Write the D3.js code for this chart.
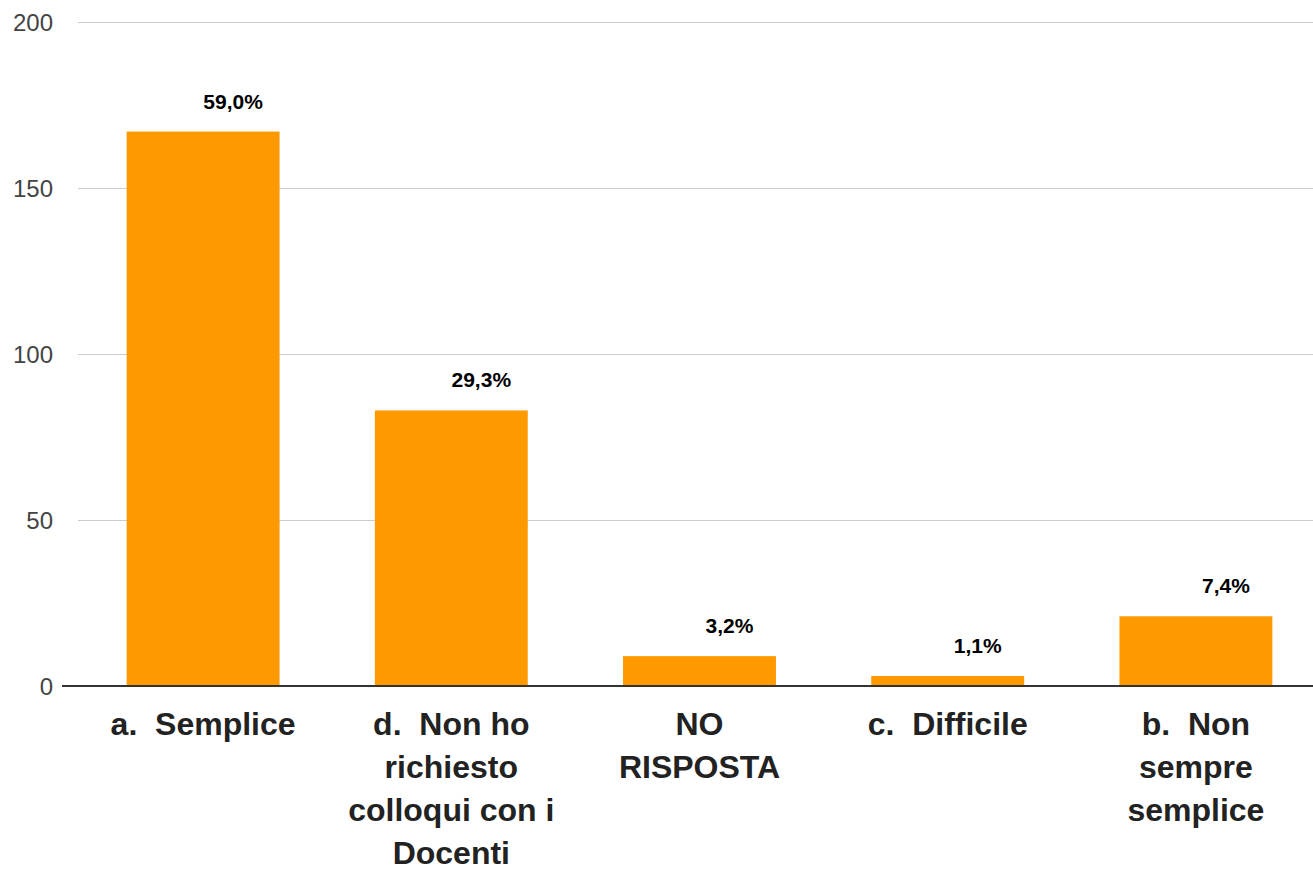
<!DOCTYPE html>
<html>
<head>
<meta charset="utf-8">
<script src="https://cdn.jsdelivr.net/npm/d3@7"></script>
<style>
  html, body { margin: 0; padding: 0; background: #fff; }
  svg { display: block; font-family: "Liberation Sans", Arial, sans-serif; }
</style>
</head>
<body>
<svg id="chart" width="1313" height="873"></svg>
<script>
// ---- data ----
const categories = [
  "a.  Semplice",
  "d.  Non ho\nrichiesto\ncolloqui con i\nDocenti",
  "NO\nRISPOSTA",
  "c.  Difficile",
  "b.  Non\nsempre\nsemplice"
];
const values = [167, 83, 9, 3, 21];
const yTicks = [0, 50, 100, 150, 200];

// ---- layout ----
const W = 1313, H = 873;
const plot = { left: 79, right: 1320, top: 22, bottom: 686 };
const svg = d3.select("#chart");

const x = d3.scaleBand()
  .domain(categories)
  .range([plot.left, plot.right])
  .paddingInner(0.384)
  .paddingOuter(0.192);

const y = d3.scaleLinear().domain([0, 200]).range([plot.bottom, plot.top]);

const total = d3.sum(values);
const fmtPct = v => (v / total * 100).toFixed(1).replace(".", ",") + "%";

// gridlines
svg.append("g")
  .selectAll("line")
  .data(yTicks.filter(t => t !== 0))
  .join("line")
  .attr("x1", 78).attr("x2", W)
  .attr("y1", d => Math.round(y(d)) + 0.5)
  .attr("y2", d => Math.round(y(d)) + 0.5)
  .attr("stroke", "#cccccc")
  .attr("stroke-width", 1);

// y axis labels
const yAxis = d3.axisLeft(y).tickValues(yTicks).tickSize(0).tickPadding(0);
const yg = svg.append("g").attr("transform", "translate(53,0)").call(yAxis);
yg.select(".domain").remove();
yg.selectAll("text")
  .attr("fill", "#444")
  .attr("font-size", 24)
  .attr("font-family", "Liberation Sans, Arial, sans-serif")
  .attr("dy", "0.35em");

// bars
svg.append("g")
  .selectAll("rect")
  .data(values)
  .join("rect")
  .attr("x", (d, i) => x(categories[i]))
  .attr("width", x.bandwidth())
  .attr("y", d => y(d))
  .attr("height", d => y(0) - y(d))
  .attr("fill", "#ff9900");

// baseline
svg.append("line")
  .attr("x1", 62).attr("x2", W)
  .attr("y1", y(0)).attr("y2", y(0))
  .attr("stroke", "#333")
  .attr("stroke-width", 2);

// value labels
svg.append("g")
  .selectAll("text")
  .data(values)
  .join("text")
  .attr("x", (d, i) => x(categories[i]) + x.bandwidth() / 2 + 30)
  .attr("y", d => y(d) - 23)
  .attr("text-anchor", "middle")
  .attr("font-size", 21)
  .attr("font-weight", "bold")
  .attr("fill", "#000")
  .text(d => fmtPct(d));

// category labels
const xg = svg.append("g");
categories.forEach((c, i) => {
  const t = xg.append("text")
    .attr("x", x(c) + x.bandwidth() / 2)
    .attr("y", 735)
    .attr("text-anchor", "middle")
    .attr("font-size", 32)
    .attr("font-weight", "bold")
    .attr("fill", "#222")
    .attr("xml:space", "preserve")
    .style("white-space", "pre");
  c.split("\n").forEach((line, j) => {
    t.append("tspan")
      .attr("x", x(c) + x.bandwidth() / 2)
      .attr("dy", j === 0 ? 0 : 43)
      .text(line);
  });
});
</script>
</body>
</html>
